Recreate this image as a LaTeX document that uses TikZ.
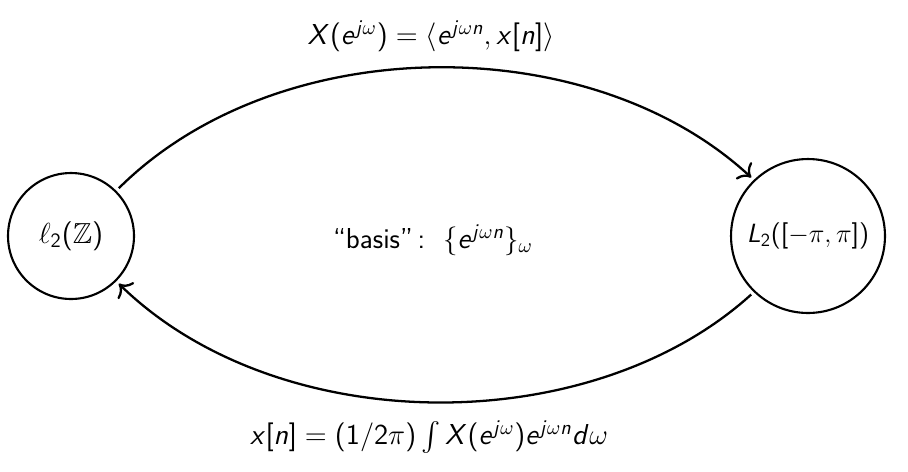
\RequirePackage{fix-cm}
\documentclass[tikz,border=0pt]{standalone}
\usepackage{amsmath, amsfonts, amssymb}
\usepackage{tikz}
\usetikzlibrary{positioning,arrows.meta}
% sans letters and digits in math, greek stays as it is
\SetSymbolFont{operators}{normal}{OT1}{cmss}{m}{n}
\DeclareSymbolFont{sfletters}{OT1}{cmss}{m}{sl}
\DeclareMathSymbol{X}{\mathalpha}{sfletters}{`X}
\DeclareMathSymbol{L}{\mathalpha}{sfletters}{`L}
\DeclareMathSymbol{e}{\mathalpha}{sfletters}{`e}
\DeclareMathSymbol{j}{\mathalpha}{sfletters}{`j}
\DeclareMathSymbol{n}{\mathalpha}{sfletters}{`n}
\DeclareMathSymbol{x}{\mathalpha}{sfletters}{`x}
\DeclareMathSymbol{d}{\mathalpha}{sfletters}{`d}
\tikzset{space node/.style={circle,draw,line width=1.2pt,inner sep=0pt,font=\fontsize{16.5}{20}\sffamily},
  label node/.style={font=\fontsize{16.4}{20}\sffamily},
  map arc/.style={-{To[scale=1.4]},line width=1.3pt,shorten >=2pt,shorten <=2pt},}
\newcommand{\arc}[4]{\path[draw, map arc] (#1) .. controls (#2) and (#3) .. (#4);}

\begin{document}
\begin{tikzpicture}[x=0.02cm,y=-0.02cm]
        \useasboundingbox (0,0) rectangle (908,471);
        \node[space node, minimum size=2.52cm] (l2) at (71,236) {$\ell_2(\mathbb{Z})$};
        \node[space node, minimum size=3.08cm, font=\fontsize{15}{18}\sffamily] (L2) at (808,236) {$L_2([-\pi,\pi])$};

        \node[label node] (dtft) at (431,36) {$X(e^{j\omega}) = \langle e^{j\omega n}, x[n]\rangle$};
        \node[label node] (idtft) at (429,437) {$x[n] = (1/2\pi)\int X(e^{j\omega})e^{j\omega n}d\omega$};
        \node[label node] (basis) at (433,240) {``basis''\,:\ \ $\{e^{j\omega n}\}_\omega$};

        \arc{l2.45}{279,29}{591,29}{L2.134}
        \arc{L2.226}{591,440}{279,440}{l2.-45}
    \end{tikzpicture}
\end{document}
